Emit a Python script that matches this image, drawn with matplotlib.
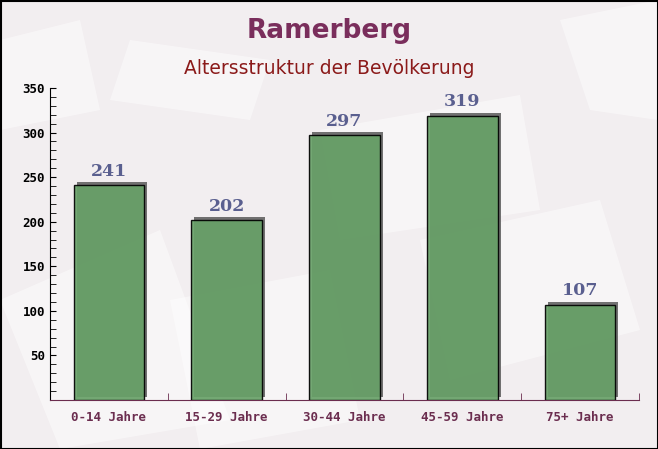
import matplotlib.pyplot as plt
import numpy as np
from matplotlib.ticker import MultipleLocator
from matplotlib.patches import Rectangle, Polygon
from matplotlib.transforms import ScaledTranslation

# Daten
kategorien = ["0-14 Jahre", "15-29 Jahre", "30-44 Jahre", "45-59 Jahre", "75+ Jahre"]
werte = [241, 202, 297, 319, 107]

titel = "Ramerberg"
untertitel = "Altersstruktur der Bevölkerung"

fig = plt.figure(figsize=(6.58, 4.49), dpi=100)
fig.patch.set_facecolor("#f2eef0")

# dezente Hintergrundflächen (Briefumschlag-Muster angedeutet)
bg = fig.add_axes([0, 0, 1, 1], zorder=0)
bg.set_xlim(0, 658)
bg.set_ylim(449, 0)
bg.axis("off")
flaechen = [
    [(0, 300), (160, 230), (230, 420), (60, 449)],
    [(320, 130), (520, 95), (540, 210), (340, 240)],
    [(130, 40), (270, 60), (250, 120), (110, 100)],
    [(420, 240), (600, 200), (640, 330), (450, 380)],
    [(170, 300), (330, 270), (360, 420), (200, 449)],
    [(560, 20), (658, 0), (658, 120), (590, 110)],
    [(0, 40), (80, 20), (100, 110), (0, 130)],
]
for f in flaechen:
    bg.add_patch(Polygon(f, closed=True, facecolor="white", alpha=0.45, edgecolor="none"))
bg.add_patch(Rectangle((0.5, 0.5), 657, 448, fill=False, edgecolor="black", linewidth=1.5))

ax = fig.add_axes([50 / 658, 1 - 400 / 449, 589 / 658, 312 / 449], zorder=1)
ax.set_facecolor("none")

x = np.arange(len(kategorien))
breite = 0.6

# Schatten (3 px nach rechts und oben versetzt)
versatz = ax.transData + ScaledTranslation(3 / 100, 3 / 100, fig.dpi_scale_trans)
ax.bar(x, werte, width=breite, color="#5a5a5a", alpha=0.85, zorder=2, transform=versatz)
ax.bar(x, werte, width=breite, color="#68a168", alpha=0.92, edgecolor="black", linewidth=1, zorder=3)

for xi, w in zip(x, werte):
    ax.text(xi, w + 6, str(w), ha="center", va="bottom", fontsize=12.5, fontweight="bold",
            family="DejaVu Serif", color="#5a5f8f", zorder=4)

ax.set_xlim(-0.5, len(kategorien) - 0.5)
ax.set_ylim(0, 350)
ax.yaxis.set_minor_locator(MultipleLocator(10))
ax.set_yticks([50, 100, 150, 200, 250, 300, 350])
ax.set_xticks(x)
ax.set_xticklabels(kategorien)
ax.set_xticks(np.arange(len(kategorien) + 1) - 0.5, minor=True)

for s in ["top", "right"]:
    ax.spines[s].set_visible(False)
ax.spines["left"].set_color("black")
ax.spines["bottom"].set_color("#6b2d4f")

ax.tick_params(axis="y", which="both", direction="in", length=4, labelsize=9, colors="black")
ax.tick_params(axis="x", which="major", length=0, pad=8, labelsize=9, labelcolor="#6b2d4f")
ax.tick_params(axis="x", which="minor", direction="in", length=5, color="#6b2d4f")
for lab in ax.get_yticklabels() + ax.get_xticklabels():
    lab.set_family("DejaVu Sans Mono")
    lab.set_fontweight("bold")

fig.text(0.5, 1 - 31 / 449, titel, ha="center", va="center", fontsize=19, fontweight="bold", color="#7a2e5c")
fig.text(0.5, 1 - 69 / 449, untertitel, ha="center", va="center", fontsize=13.5, color="#8b1a1a")

fig.savefig("out.png", dpi=100, facecolor=fig.get_facecolor())
